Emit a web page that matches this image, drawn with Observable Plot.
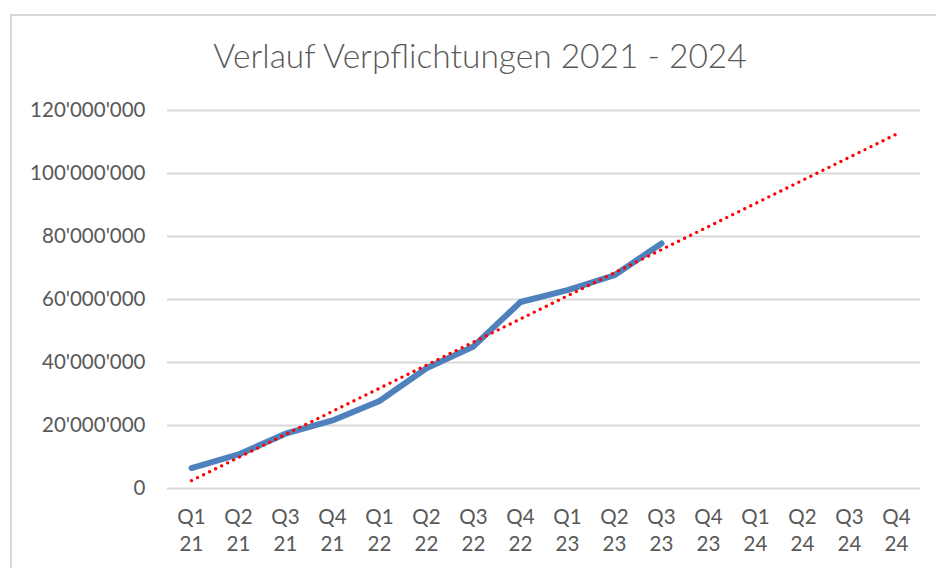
<!DOCTYPE html>
<html>
<head>
<meta charset="utf-8">
<script src="https://cdn.jsdelivr.net/npm/d3@7"></script>
<script src="https://cdn.jsdelivr.net/npm/@observablehq/plot@0.6"></script>
<style>
  html, body { margin: 0; padding: 0; background: #fff; }
  body { width: 936px; height: 568px; position: relative; overflow: hidden; font-family: Lato, sans-serif; }
  #frame { position: absolute; left: 10px; top: 14px; width: 1000px; height: 700px; border-left: 2px solid #d9d9d9; border-top: 2px solid #d9d9d9; box-sizing: border-box; }
  #title { position: absolute; left: 0; top: 0; width: 936px; height: 90px; text-align: center; }
  #title span { position: absolute; left: 0; right: 0; top: 39px; text-align: center; margin-left: 24px; font-family: Lato, sans-serif; font-weight: 300; font-size: 33.5px; color: #595959; line-height: 1; }
  #chart { position: absolute; left: 0; top: 90px; }
</style>
</head>
<body>
<div id="frame"></div>
<div id="title"><span>Verlauf Verpflichtungen 2021 - 2024</span></div>
<div id="chart"></div>
<script>
const quarters = ["Q1\n21","Q2\n21","Q3\n21","Q4\n21","Q1\n22","Q2\n22","Q3\n22","Q4\n22","Q1\n23","Q2\n23","Q3\n23","Q4\n23","Q1\n24","Q2\n24","Q3\n24","Q4\n24"];
const actualQuarters = ["Q1\n21","Q2\n21","Q3\n21","Q4\n21","Q1\n22","Q2\n22","Q3\n22","Q4\n22","Q1\n23","Q2\n23","Q3\n23"];
const actualValues = [6500000, 10800000, 17400000, 21600000, 27800000, 38200000, 45100000, 59200000, 63000000, 67700000, 77800000];
const trendQuarters = ["Q1\n21", "Q4\n24"];
const trendValues = [2500000, 112500000];
const yTicks = [0, 20000000, 40000000, 60000000, 80000000, 100000000, 120000000];

const actual = actualQuarters.map((q, i) => ({q, v: actualValues[i]}));
const trend = trendQuarters.map((q, i) => ({q, v: trendValues[i]}));
const fmt = d => d3.format(",")(d).replace(/,/g, "'");

const chart = Plot.plot({
  width: 936,
  height: 478,
  marginLeft: 167,
  marginRight: 16,
  marginTop: 20,
  marginBottom: 80,
  style: {fontFamily: "Lato, sans-serif", color: "#595959", background: "transparent"},
  x: {type: "point", domain: quarters, padding: 0.5, label: null},
  y: {domain: [0, 120000000], label: null},
  marks: [
    Plot.ruleY(yTicks, {stroke: "#d9d9d9", strokeWidth: 2, strokeOpacity: 1}),
    Plot.axisY(yTicks, {tickSize: 0, tickPadding: 22, tickFormat: fmt, fontSize: 20.5, fill: "#595959", label: null}),
    Plot.axisX({tickSize: 0, tickPadding: 17, fontSize: 20.5, fill: "#595959", lineHeight: 1.3, label: null}),
    Plot.line(actual, {x: "q", y: "v", stroke: "#4f81bd", strokeWidth: 6, strokeLinecap: "round", strokeLinejoin: "round"}),
    Plot.line(trend, {x: "q", y: "v", stroke: "#ff0000", strokeWidth: 3.2, strokeDasharray: "0.1 6.6", strokeLinecap: "round"})
  ]
});
document.getElementById("chart").append(chart);
</script>
</body>
</html>
